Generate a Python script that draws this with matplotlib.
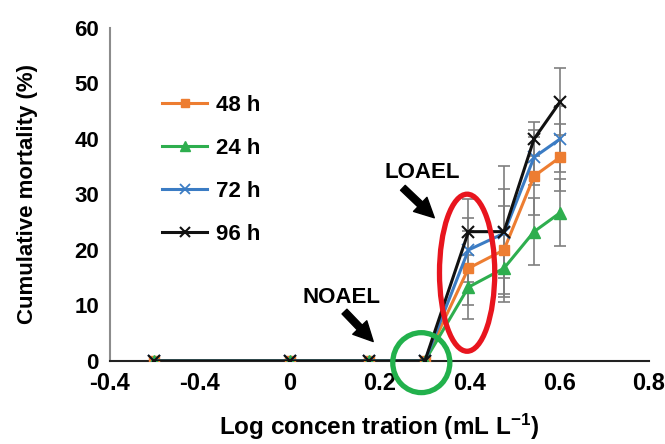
"""Cumulative mortality vs log concentration with NOAEL / LOAEL marks."""

import matplotlib

matplotlib.use("Agg")
import matplotlib.pyplot as plt
from matplotlib.patches import Ellipse

plt.rcParams["font.family"] = ["Liberation Sans", "DejaVu Sans"]
plt.rcParams["font.weight"] = "bold"
plt.rcParams["axes.labelweight"] = "bold"
plt.rcParams["mathtext.fontset"] = "custom"
plt.rcParams["mathtext.rm"] = "Liberation Sans:bold"
plt.rcParams["mathtext.bf"] = "Liberation Sans:bold"
plt.rcParams["mathtext.default"] = "bf"

log_conc = [-0.301, 0.0, 0.176, 0.301, 0.398, 0.477, 0.544, 0.602]

series_labels = ["48 h", "24 h", "72 h", "96 h"]
mortality = {
    "48 h": [0, 0, 0, 0, 16.7, 20.0, 33.3, 36.7],
    "24 h": [0, 0, 0, 0, 13.3, 16.7, 23.3, 26.7],
    "72 h": [0, 0, 0, 0, 20.0, 23.0, 36.7, 40.0],
    "96 h": [0, 0, 0, 0, 23.3, 23.3, 40.0, 46.7],
}
mortality_err = {
    "48 h": [0, 0, 0, 0, 6.7, 8.0, 7.0, 6.0],
    "24 h": [0, 0, 0, 0, 5.8, 6.0, 6.0, 6.0],
    "72 h": [0, 0, 0, 0, 5.8, 8.0, 5.0, 6.0],
    "96 h": [0, 0, 0, 0, 5.8, 11.8, 3.0, 6.0],
}

x_ticks = [-0.4, -0.2, 0.0, 0.2, 0.4, 0.6, 0.8]
x_tick_labels = ["-0.4", "-0.4", "0", "0.2", "0.4", "0.6", "0.8"]
y_ticks = [0, 10, 20, 30, 40, 50, 60]
y_tick_labels = [str(v) for v in y_ticks]

styles = {
    "48 h": dict(color="#ED7D31", marker="s", markersize=7, mew=1),
    "24 h": dict(color="#2EAE4E", marker="^", markersize=8, mew=1),
    "72 h": dict(color="#3B7CC4", marker="x", markersize=8, mew=1.3),
    "96 h": dict(color="#111111", marker="x", markersize=9, mew=1.5),
}

fig = plt.figure(figsize=(6.65, 4.44), dpi=100)
ax = fig.add_axes([0.1654, 0.187, 0.8106, 0.750])

for label in series_labels:
    ax.errorbar(
        log_conc,
        mortality[label],
        yerr=mortality_err[label],
        fmt="none",
        ecolor="#7f7f7f",
        elinewidth=1.2,
        capsize=4,
        capthick=1.2,
        zorder=2,
    )

for label in series_labels:
    ax.plot(
        log_conc,
        mortality[label],
        linewidth=2.2,
        label=label,
        zorder=3,
        **styles[label],
    )

ax.set_xlim(-0.4, 0.8)
ax.set_ylim(0, 60)
ax.set_xticks(x_ticks)
ax.set_xticklabels(x_tick_labels, fontsize=17, fontweight="bold")
ax.set_yticks(y_ticks)
ax.set_yticklabels(y_tick_labels, fontsize=16, fontweight="bold")
ax.tick_params(length=0, pad=8)

ax.spines["top"].set_visible(False)
ax.spines["right"].set_visible(False)
ax.spines["left"].set_color("#8c8c8c")
ax.spines["left"].set_linewidth(1.5)
ax.spines["bottom"].set_color("#222222")
ax.spines["bottom"].set_linewidth(1.5)

ax.set_xlabel(r"Log concen tration (mL L$^{-1}$)", fontsize=17.5, labelpad=12)
ax.set_ylabel("Cumulative mortality (%)", fontsize=16, labelpad=26)

legend = ax.legend(
    loc="upper left",
    bbox_to_anchor=(0.06, 0.86),
    frameon=False,
    handlelength=2.0,
    labelspacing=1.0,
    handletextpad=0.4,
    markerscale=0.85,
    prop={"size": 16, "weight": "bold"},
)

# annotations
arrow_style = dict(
    arrowstyle="simple,head_width=1.0,head_length=1.0,tail_width=0.35",
    color="black",
    mutation_scale=14,
    shrinkA=0,
    shrinkB=0,
)
ax.text(0.295, 33.9, "LOAEL", fontsize=16, ha="center", va="center")
ax.annotate("", xy=(0.322, 25.8), xytext=(0.252, 31.2), arrowprops=arrow_style)
ax.text(0.116, 11.4, "NOAEL", fontsize=16, ha="center", va="center")
ax.annotate("", xy=(0.186, 3.5), xytext=(0.122, 8.9), arrowprops=arrow_style)

ax.add_patch(
    Ellipse((0.395, 15.9), width=0.123, height=28.3, fill=False,
            edgecolor="#E8151E", linewidth=3.8, zorder=5, clip_on=False)
)
ax.add_patch(
    Ellipse((0.293, -0.3), width=0.127, height=10.8, fill=False,
            edgecolor="#22B14C", linewidth=3.8, zorder=5, clip_on=False)
)

fig.savefig("out.png", dpi=100)
